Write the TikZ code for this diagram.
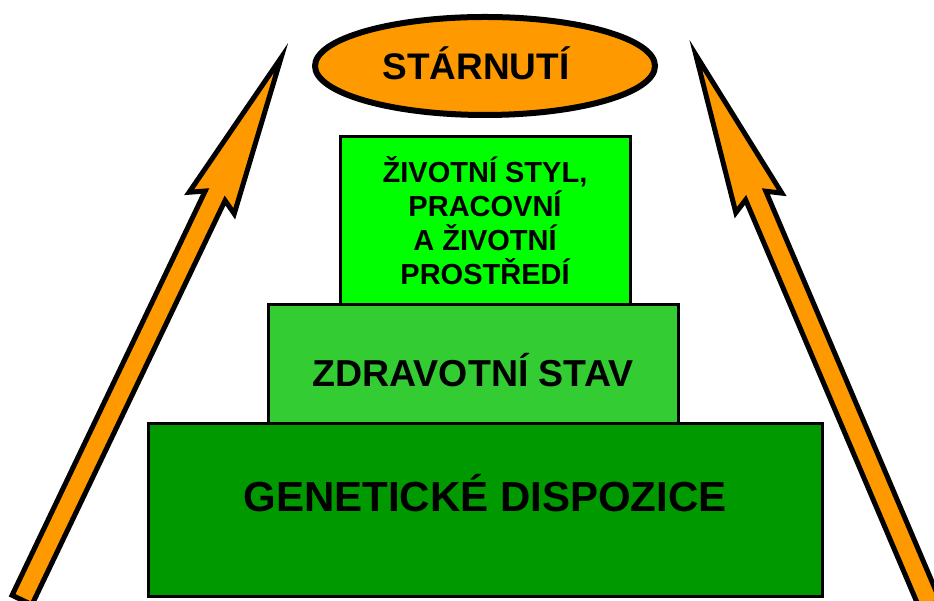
\documentclass[tikz,border=0pt]{standalone}
\usepackage{fontspec}
\setmainfont{Liberation Sans}
\usepackage{xcolor}
\usepackage{tikz}
\usetikzlibrary{positioning, shapes.geometric}

\definecolor{oranzova}{HTML}{FF9900}
\definecolor{zelenasvetla}{HTML}{00FF00}
\definecolor{zelenastredni}{HTML}{33CC33}
\definecolor{zelenatmava}{HTML}{009900}

\begin{document}
\begin{tikzpicture}[x=1pt, y=1pt,
    blok/.style={draw=black, line width=3pt, align=center, inner sep=0pt, outer sep=0pt},
    sipka/.style={draw=black, line width=5pt, fill=oranzova, line join=miter}]
        \useasboundingbox (0,0) rectangle (934,601);
        % Sipky
        \begin{scope}[shift={(22,1)}, rotate=64.46]
          \draw[sipka] (0,-11) -- (448,-11) -- (440,-25) -- (601,0)
            -- (440,25) -- (448,11) -- (0,11) -- cycle;
        \end{scope}
        \begin{scope}[shift={(930,-4)}, rotate=113.06]
          \draw[sipka] (0,-11) -- (445,-11) -- (437,-25) -- (598,0)
            -- (437,25) -- (445,11) -- (0,11) -- cycle;
        \end{scope}
        % Starnuti
        \node[blok, ellipse, fill=oranzova, line width=6pt, minimum width=340pt, minimum height=98pt]
          (starnuti) at (485,535) {};
        \node[text height=26.5pt, text depth=0pt, inner sep=0pt, font=\bfseries\fontsize{37}{44}\selectfont]
          (starnutitext) at ([xshift=-9pt]starnuti.center) {STÁRNUTÍ};
        % Pyramida
        \node[blok, fill=zelenasvetla, minimum width=290pt, minimum height=168pt,
          font=\bfseries\fontsize{29}{34}\selectfont]
          (styl) at (485,380) {ŽIVOTNÍ STYL,\\PRACOVNÍ\\A ŽIVOTNÍ\\PROSTŘEDÍ};
        \node[blok, fill=zelenastredni, minimum width=410pt, minimum height=119pt,
          text height=45pt, text depth=0pt, font=\bfseries\fontsize{37.5}{44}\selectfont,
          below=0pt of styl, xshift=-12pt] (zdravi) {ZDRAVOTNÍ STAV};
        \node[blok, fill=zelenatmava, minimum width=674pt, minimum height=173pt,
          text height=30pt, text depth=27pt, font=\bfseries\fontsize{42}{50}\selectfont,
          below=0pt of zdravi, xshift=12pt] (geny) {GENETICKÉ DISPOZICE};
      \end{tikzpicture}
\end{document}
